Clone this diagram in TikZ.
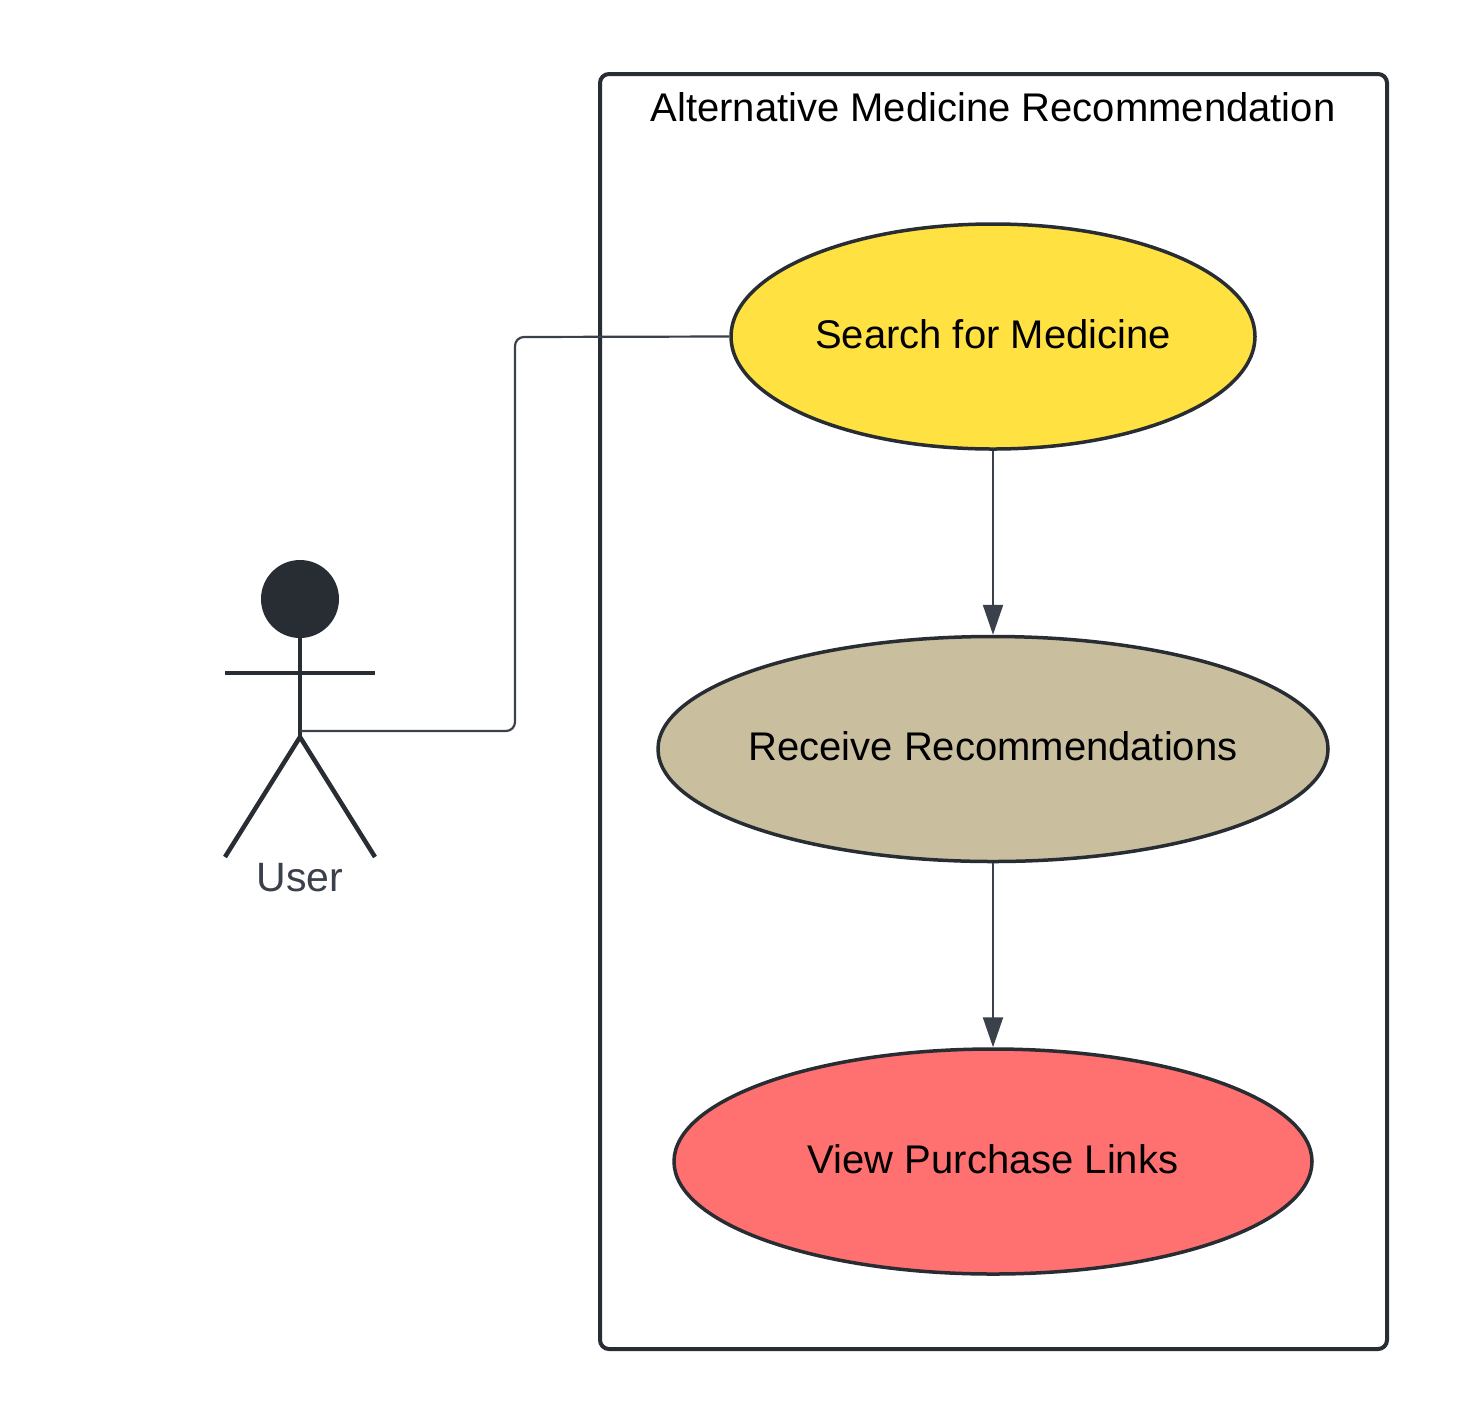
\documentclass[tikz,border=0pt]{standalone}
\usepackage{fontspec}
\setmainfont{Liberation Sans}
\usetikzlibrary{arrows.meta,shapes.geometric}
\definecolor{ink}{HTML}{282C33}
\definecolor{linec}{HTML}{3A414A}
\definecolor{yel}{HTML}{FFE141}
\definecolor{tan}{HTML}{C9BF9F}
\definecolor{red}{HTML}{FF7070}
\tikzset{
 usecase/.style={ellipse,draw=ink,line width=3.5pt,inner ysep=0pt,inner xsep=-50pt,text=black,font=\fontsize{40}{42}\selectfont,text height=27pt,text depth=4pt},
 frame/.style={draw=ink,line width=4pt,rounded corners=9pt},
 stick/.style={draw=ink,line width=4.5pt},
 conn/.style={draw=linec,line width=2.2pt},
 flow/.style={conn,-{Triangle[length=30pt,width=20pt]}},
}
\begin{document}
\begin{tikzpicture}[x=1pt,y=-1pt]
\useasboundingbox (0,0) rectangle (1463,1425);
\fill[white] (0,0) rectangle (1463,1425);
\draw[frame] (600,74) rectangle (1387,1349);
\node[font=\fontsize{40}{42}\selectfont,text=black] (title) at (993,107) {Alternative Medicine Recommendation};
\node[usecase,fill=yel,minimum width=524pt,minimum height=225pt] (search) at (993,336.5) {Search for Medicine};
\node[usecase,fill=tan,minimum width=670pt,minimum height=225pt] (receive) at (993,749) {Receive Recommendations};
\node[usecase,fill=red,minimum width=638pt,minimum height=225pt] (view) at (993,1161.5) {View Purchase Links};
% actor
\node[circle,fill=ink,minimum size=78pt,inner sep=0pt] (head) at (300,599) {};
\coordinate (hip) at (300,737);
\coordinate (attach) at (300,731);
\coordinate (lfoot) at (225,857);
\coordinate (rfoot) at (375,857);
\coordinate (larm) at (225,673);
\coordinate (rarm) at (375,673);
\coordinate (bend) at (515,337);
\draw[stick] (head) -- (hip);
\draw[stick] (larm) -- (rarm);
\draw[stick] (lfoot) -- (hip) -- (rfoot);
\node[font=\fontsize{41}{43}\selectfont,text=linec] (user) at (300,878) {User};
\draw[conn,rounded corners=9pt] (attach) -| (bend) -- (search.west);
\draw[flow] (search) -- (receive);
\draw[flow] (receive) -- (view);
\end{tikzpicture}
\end{document}
